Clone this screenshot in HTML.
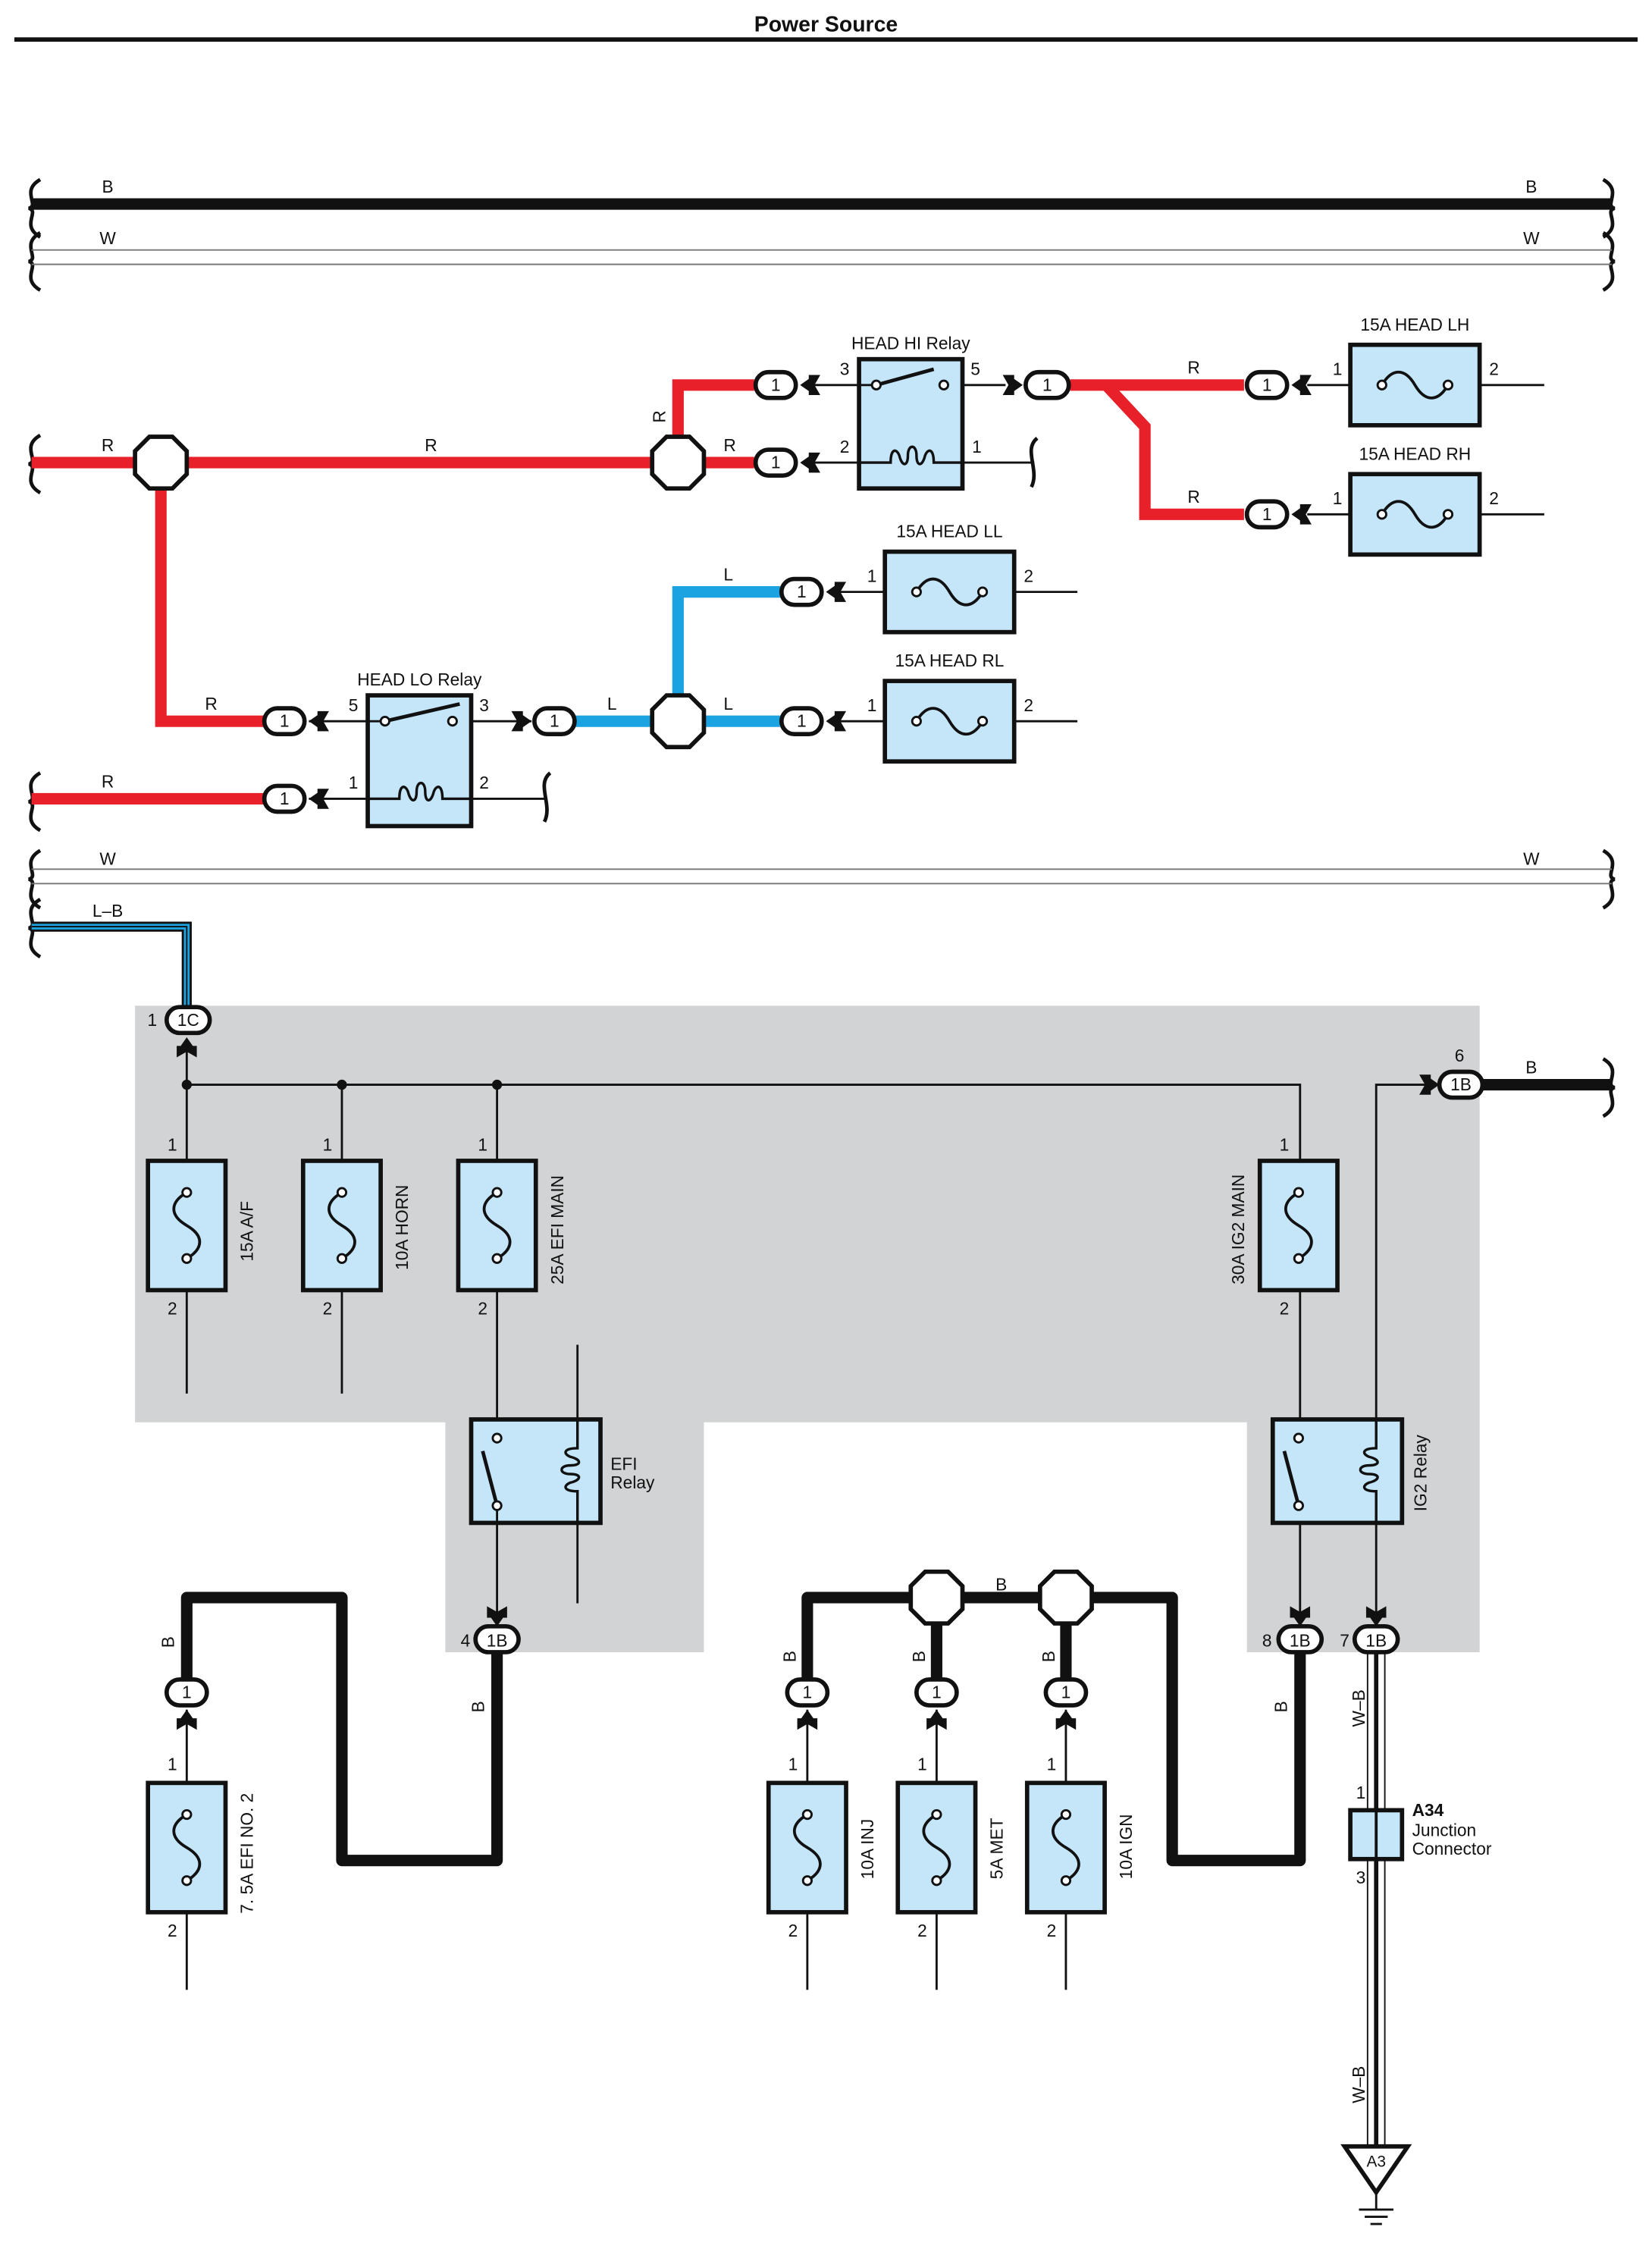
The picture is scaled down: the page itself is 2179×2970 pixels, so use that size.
<!DOCTYPE html>
<html><head><meta charset="utf-8"><style>
html,body{margin:0;padding:0;background:#fff}
svg{display:block}
text{font-family:"Liberation Sans",Arial,sans-serif;fill:#111}
</style></head><body>
<svg width="2179" height="2970" viewBox="0 0 1150 1567.5" preserveAspectRatio="none" xmlns="http://www.w3.org/2000/svg">
<defs>
<g id="fh"><rect x="0" y="0" width="90" height="56" fill="#c5e6f8" stroke="#111" stroke-width="3"/>
<path d="M22,28 c7,-12 16,-12 23,0 s16,12 23,0" fill="none" stroke="#111" stroke-width="2"/>
<circle cx="22" cy="28" r="3" fill="#fff" stroke="#111" stroke-width="1.5"/><circle cx="68" cy="28" r="3" fill="#fff" stroke="#111" stroke-width="1.5"/></g>
<g id="fv"><rect x="0" y="0" width="54" height="90" fill="#c5e6f8" stroke="#111" stroke-width="3"/>
<path d="M27,22 c-12,7 -12,16 0,23 s12,16 0,23" fill="none" stroke="#111" stroke-width="2"/>
<circle cx="27" cy="22" r="3" fill="#fff" stroke="#111" stroke-width="1.5"/><circle cx="27" cy="68" r="3" fill="#fff" stroke="#111" stroke-width="1.5"/></g>
<g id="oct"><polygon points="-8,-18 8,-18 18,-8 18,8 8,18 -8,18 -18,8 -18,-8" fill="#fff" stroke="#111" stroke-width="3"/></g>
<g id="arL"><path d="M0,0 L10,-7 L7,0 L10,7 Z M6,-7 L14,-7 L10,0 L14,7 L6,7 Z" fill="#111"/></g>
<g id="arR"><path d="M0,0 L-10,-7 L-7,0 L-10,7 Z M-6,-7 L-14,-7 L-10,0 L-14,7 L-6,7 Z" fill="#111"/></g>
<g id="arD"><path d="M0,0 L-7,-10 L0,-7 L7,-10 Z M-7,-6 L-7,-14 L0,-10 L7,-14 L7,-6 Z" fill="#111"/></g>
<g id="arU"><path d="M0,0 L-7,10 L0,7 L7,10 Z M-7,6 L-7,14 L0,10 L7,14 L7,6 Z" fill="#111"/></g>
</defs>

<text x="575" y="22" font-size="15" font-weight="bold" text-anchor="middle">Power Source</text>
<line x1="10" y1="27.5" x2="1140" y2="27.5" stroke="#111" stroke-width="3"/>

<!-- braces -->
<g fill="none" stroke="#111" stroke-width="2.5">
<path d="M28,125 c-14,8 0,18 -8,20 c8,2 -6,12 8,20"/><path d="M28,162 c-14,8 0,18 -8,20 c8,2 -6,12 8,20"/>
<path d="M1116,125 c14,8 0,18 8,20 c-8,2 6,12 -8,20"/><path d="M1116,162 c14,8 0,18 8,20 c-8,2 6,12 -8,20"/>
<path d="M28,303 c-14,8 0,18 -8,20 c8,2 -6,12 8,20"/>
<path d="M28,538 c-14,8 0,18 -8,20 c8,2 -6,12 8,20"/>
<path d="M28,592 c-14,8 0,18 -8,20 c8,2 -6,12 8,20"/>
<path d="M1116,592 c14,8 0,18 8,20 c-8,2 6,12 -8,20"/>
<path d="M28,626 c-14,8 0,18 -8,20 c8,2 -6,12 8,20"/>
<path d="M1116,737 c14,8 0,18 8,20 c-8,2 6,12 -8,20"/>
<path d="M722,305 c-10,8 2,22 -4,34"/>
<path d="M383,538 c-10,8 2,22 -4,34"/>
<path d="M384,936 c8,-8 16,4 32,-4"/><path d="M384,1116 c8,-8 16,4 32,-4"/>
</g>

<!-- top buses -->
<line x1="22" y1="142" x2="1122" y2="142" stroke="#111" stroke-width="8"/>
<text x="75" y="134" font-size="12" text-anchor="middle">B</text><text x="1066" y="134" font-size="12" text-anchor="middle">B</text>
<line x1="22" y1="174" x2="1122" y2="174" stroke="#777" stroke-width="1"/><line x1="22" y1="184" x2="1122" y2="184" stroke="#777" stroke-width="1"/>
<text x="75" y="170" font-size="12" text-anchor="middle">W</text><text x="1066" y="170" font-size="12" text-anchor="middle">W</text>
<line x1="22" y1="605" x2="1122" y2="605" stroke="#777" stroke-width="1"/><line x1="22" y1="615" x2="1122" y2="615" stroke="#777" stroke-width="1"/>
<text x="75" y="602" font-size="12" text-anchor="middle">W</text><text x="1066" y="602" font-size="12" text-anchor="middle">W</text>

<!-- gray region -->
<polygon points="94,700 1030,700 1030,1150 868,1150 868,990 490,990 490,1150 310,1150 310,990 94,990" fill="#d1d3d4"/>

<!-- red wires -->
<g fill="none" stroke="#e8202a" stroke-width="8" stroke-linejoin="miter">
<path d="M22,322 H525"/>
<path d="M112,322 V502 H185"/>
<path d="M472,322 V268 H525"/>
<path d="M745,268 H866"/>
<path d="M770,268 L797,297 V358 H866"/>
<path d="M22,556 H185"/>
</g>
<!-- blue wires -->
<g fill="none" stroke="#1aa3e0" stroke-width="8">
<path d="M400,502 H543"/>
<path d="M472,502 V412 H543"/>
</g>
<text x="75" y="314" font-size="12" text-anchor="middle">R</text>
<text x="300" y="314" font-size="12" text-anchor="middle">R</text>
<text x="508" y="314" font-size="12" text-anchor="middle">R</text>
<text x="463" y="290" font-size="12" text-anchor="middle" transform="rotate(-90 463 290)">R</text>
<text x="147" y="494" font-size="12" text-anchor="middle">R</text>
<text x="75" y="548" font-size="12" text-anchor="middle">R</text>
<text x="831" y="260" font-size="12" text-anchor="middle">R</text>
<text x="831" y="350" font-size="12" text-anchor="middle">R</text>
<text x="507" y="404" font-size="12" text-anchor="middle">L</text>
<text x="426" y="494" font-size="12" text-anchor="middle">L</text>
<text x="507" y="494" font-size="12" text-anchor="middle">L</text>

<use href="#oct" x="112" y="322"/><use href="#oct" x="472" y="322"/><use href="#oct" x="472" y="502"/>

<!-- thin wires top -->
<g stroke="#111" stroke-width="1.5" fill="none">
<path d="M565,268 H640"/><path d="M565,322 H720"/><path d="M662,268 H700"/>
<path d="M910,268 H1075"/><path d="M910,358 H1075"/>
<path d="M585,412 H750"/><path d="M585,502 H750"/>
<path d="M215,502 H370"/><path d="M215,556 H380"/>
</g>

<!-- HEAD HI Relay -->
<rect x="598" y="250" width="72" height="90" fill="#c5e6f8" stroke="#111" stroke-width="3"/>
<path d="M598,322 H620 c0,-10 4,-10 6,-5 c2,8 6,8 6,0 c0,-8 6,-8 6,0 c0,8 4,8 6,0 c2,-5 6,-5 6,5 H670" fill="none" stroke="#111" stroke-width="1.8"/>
<line x1="598" y1="268" x2="610" y2="268" stroke="#111" stroke-width="1.5"/>
<line x1="610" y1="268" x2="650" y2="257" stroke="#111" stroke-width="2.5"/>
<circle cx="610" cy="268" r="3" fill="#fff" stroke="#111" stroke-width="1.5"/><circle cx="657" cy="268" r="3" fill="#fff" stroke="#111" stroke-width="1.5"/>
<text x="634" y="243" font-size="12" text-anchor="middle">HEAD HI Relay</text>
<text x="588" y="261" font-size="12" text-anchor="middle">3</text><text x="679" y="261" font-size="12" text-anchor="middle">5</text>
<text x="588" y="315" font-size="12" text-anchor="middle">2</text><text x="680" y="315" font-size="12" text-anchor="middle">1</text>

<!-- HEAD LO Relay -->
<rect x="256" y="484" width="72" height="91" fill="#c5e6f8" stroke="#111" stroke-width="3"/>
<path d="M256,556 H278 c0,-10 4,-10 6,-5 c2,8 6,8 6,0 c0,-8 6,-8 6,0 c0,8 4,8 6,0 c2,-5 6,-5 6,5 H328" fill="none" stroke="#111" stroke-width="1.8"/>
<line x1="256" y1="502" x2="268" y2="502" stroke="#111" stroke-width="1.5"/>
<line x1="268" y1="502" x2="320" y2="490" stroke="#111" stroke-width="2.5"/>
<circle cx="268" cy="502" r="3" fill="#fff" stroke="#111" stroke-width="1.5"/><circle cx="315" cy="502" r="3" fill="#fff" stroke="#111" stroke-width="1.5"/>
<text x="292" y="477" font-size="12" text-anchor="middle">HEAD LO Relay</text>
<text x="246" y="495" font-size="12" text-anchor="middle">5</text><text x="337" y="495" font-size="12" text-anchor="middle">3</text>
<text x="246" y="549" font-size="12" text-anchor="middle">1</text><text x="337" y="549" font-size="12" text-anchor="middle">2</text>

<!-- horizontal fuses -->
<use href="#fh" x="940" y="240"/><use href="#fh" x="940" y="330"/><use href="#fh" x="616" y="384"/><use href="#fh" x="616" y="474"/>
<text x="985" y="230" font-size="12" text-anchor="middle">15A HEAD LH</text>
<text x="985" y="320" font-size="12" text-anchor="middle">15A HEAD RH</text>
<text x="661" y="374" font-size="12" text-anchor="middle">15A HEAD LL</text>
<text x="661" y="464" font-size="12" text-anchor="middle">15A HEAD RL</text>
<g font-size="12" text-anchor="middle">
<text x="931" y="261">1</text><text x="1040" y="261">2</text>
<text x="931" y="351">1</text><text x="1040" y="351">2</text>
<text x="607" y="405">1</text><text x="716" y="405">2</text>
<text x="607" y="495">1</text><text x="716" y="495">2</text>
</g>

<!-- arrows + pills top -->
<use href="#arL" x="557" y="268"/><use href="#arL" x="557" y="322"/><use href="#arR" x="712" y="268"/>
<use href="#arL" x="899" y="268"/><use href="#arL" x="899" y="358"/>
<use href="#arL" x="575" y="412"/><use href="#arL" x="575" y="502"/>
<use href="#arL" x="215" y="502"/><use href="#arL" x="215" y="556"/><use href="#arR" x="370" y="502"/>
<g fill="#fff" stroke="#111" stroke-width="3">
<rect x="526" y="259" width="28" height="18" rx="9"/><rect x="526" y="313" width="28" height="18" rx="9"/>
<rect x="714" y="259" width="30" height="18" rx="9"/>
<rect x="868" y="259" width="28" height="18" rx="9"/><rect x="868" y="349" width="28" height="18" rx="9"/>
<rect x="544" y="403" width="28" height="18" rx="9"/><rect x="544" y="493" width="28" height="18" rx="9"/>
<rect x="184" y="493" width="28" height="18" rx="9"/><rect x="184" y="547" width="28" height="18" rx="9"/>
<rect x="372" y="493" width="28" height="18" rx="9"/>
</g>
<g font-size="12" text-anchor="middle">
<text x="540" y="272">1</text><text x="540" y="326">1</text><text x="729" y="272">1</text>
<text x="882" y="272">1</text><text x="882" y="362">1</text><text x="558" y="416">1</text><text x="558" y="506">1</text>
<text x="198" y="506">1</text><text x="198" y="560">1</text><text x="386" y="506">1</text>
</g>

<!-- L-B wire -->
<path d="M22,645 H130 V700" fill="none" stroke="#111" stroke-width="7"/>
<path d="M22,645 H130 V700" fill="none" stroke="#1aa3e0" stroke-width="4"/>
<path d="M22,645 H130 V700" fill="none" stroke="#111" stroke-width="1"/>
<text x="75" y="638" font-size="12" text-anchor="middle">L–B</text>

<!-- junction block internals -->
<g stroke="#111" stroke-width="1.5" fill="none">
<path d="M130,730 V970"/><path d="M238,755 V970"/><path d="M346,755 V1130"/>
<path d="M130,755 H905 V1130"/>
<path d="M958,1130 V755 H1000"/>
<path d="M402,936 V1116"/>
</g>
<line x1="1030" y1="755" x2="1122" y2="755" stroke="#111" stroke-width="8"/>
<text x="1066" y="747" font-size="12" text-anchor="middle">B</text>
<circle cx="130" cy="755" r="3.5" fill="#111"/><circle cx="238" cy="755" r="3.5" fill="#111"/><circle cx="346" cy="755" r="3.5" fill="#111"/>
<use href="#arU" x="130" y="722"/>
<use href="#fv" x="103" y="808"/><use href="#fv" x="211" y="808"/><use href="#fv" x="319" y="808"/><use href="#fv" x="877" y="808"/>
<g font-size="12" text-anchor="middle">
<text x="120" y="801">1</text><text x="120" y="915">2</text>
<text x="228" y="801">1</text><text x="228" y="915">2</text>
<text x="336" y="801">1</text><text x="336" y="915">2</text>
<text x="894" y="801">1</text><text x="894" y="915">2</text>
<text x="106" y="714">1</text><text x="1016" y="739">6</text>
</g>
<g font-size="12">
<text transform="translate(176,878) rotate(-90)">15A A/F</text>
<text transform="translate(284,884) rotate(-90)">10A HORN</text>
<text transform="translate(392,894) rotate(-90)">25A EFI MAIN</text>
<text transform="translate(866,894) rotate(-90)">30A IG2 MAIN</text>
</g>

<!-- EFI relay -->
<rect x="328" y="988" width="90" height="72" fill="#c5e6f8" stroke="#111" stroke-width="3"/>
<line x1="346" y1="1048" x2="346" y2="1060" stroke="#111" stroke-width="1.5"/>
<line x1="346" y1="1048" x2="336" y2="1010" stroke="#111" stroke-width="2.5"/>
<circle cx="346" cy="1048" r="3" fill="#fff" stroke="#111" stroke-width="1.5"/><circle cx="346" cy="1001" r="3" fill="#fff" stroke="#111" stroke-width="1.5"/>
<path d="M402,988 V1008 c-10,0 -10,4 -5,6 c8,2 8,6 0,6 c-8,0 -8,6 0,6 c8,0 8,4 0,6 c-5,2 -5,6 5,6 V1060" fill="none" stroke="#111" stroke-width="1.8"/>
<text x="425" y="1023" font-size="12">EFI</text><text x="425" y="1036" font-size="12">Relay</text>

<!-- IG2 relay -->
<rect x="886" y="988" width="90" height="72" fill="#c5e6f8" stroke="#111" stroke-width="3"/>
<line x1="904" y1="1048" x2="894" y2="1010" stroke="#111" stroke-width="2.5"/>
<circle cx="904" cy="1048" r="3" fill="#fff" stroke="#111" stroke-width="1.5"/><circle cx="904" cy="1001" r="3" fill="#fff" stroke="#111" stroke-width="1.5"/>
<path d="M958,988 V1008 c-10,0 -10,4 -5,6 c8,2 8,6 0,6 c-8,0 -8,6 0,6 c8,0 8,4 0,6 c-5,2 -5,6 5,6 V1060" fill="none" stroke="#111" stroke-width="1.8"/>
<text transform="translate(993,1052) rotate(-90)" font-size="12">IG2 Relay</text>

<!-- 1B connectors inside bottom -->
<use href="#arD" x="346" y="1132"/><use href="#arD" x="905" y="1132"/><use href="#arD" x="958" y="1132"/>
<use href="#arR" x="1002" y="755"/>

<!-- thick B wires bottom -->
<g fill="none" stroke="#111" stroke-width="8" stroke-linejoin="round">
<path d="M346,1150 V1295 H238 V1112 H130 V1170"/>
<path d="M562,1170 V1112 H816 V1295 H905 V1150"/>
<path d="M652,1112 V1170"/><path d="M742,1112 V1170"/>
</g>
<use href="#oct" x="652" y="1112"/><use href="#oct" x="742" y="1112"/>
<text x="697" y="1107" font-size="12" text-anchor="middle">B</text>
<g font-size="12">
<text transform="translate(121,1147) rotate(-90)">B</text>
<text transform="translate(337,1192) rotate(-90)">B</text>
<text transform="translate(554,1157) rotate(-90)">B</text>
<text transform="translate(644,1157) rotate(-90)">B</text>
<text transform="translate(734,1157) rotate(-90)">B</text>
<text transform="translate(896,1192) rotate(-90)">B</text>
<text transform="translate(950,1202) rotate(-90)">W–B</text>
<text transform="translate(950,1464) rotate(-90)">W–B</text>
</g>

<!-- W-B wire -->
<g stroke="#111" fill="none">
<line x1="952" y1="1150" x2="952" y2="1495" stroke-width="1"/>
<line x1="964" y1="1150" x2="964" y2="1495" stroke-width="1"/>
<line x1="958" y1="1150" x2="958" y2="1495" stroke-width="3"/>
</g>
<rect x="940" y="1260" width="36" height="34" fill="#c5e6f8" stroke="#111" stroke-width="3"/>
<line x1="958" y1="1260" x2="958" y2="1294" stroke="#111" stroke-width="2"/>
<text x="944" y="1252" font-size="12">1</text><text x="944" y="1311" font-size="12">3</text>
<text x="983" y="1264" font-size="12" font-weight="bold">A34</text>
<text x="983" y="1278" font-size="12">Junction</text><text x="983" y="1291" font-size="12">Connector</text>
<polygon points="936,1494 980,1494 958,1526" fill="#fff" stroke="#111" stroke-width="3"/>
<text x="958" y="1508" font-size="11" text-anchor="middle">A3</text>
<g stroke="#111" stroke-width="1.5"><line x1="958" y1="1526" x2="958" y2="1538"/><line x1="946" y1="1538" x2="970" y2="1538"/><line x1="950" y1="1543" x2="966" y2="1543"/><line x1="954" y1="1548" x2="962" y2="1548"/></g>

<!-- bottom fuses -->
<use href="#arU" x="130" y="1190"/><use href="#arU" x="562" y="1190"/><use href="#arU" x="652" y="1190"/><use href="#arU" x="742" y="1190"/>
<g stroke="#111" stroke-width="1.5">
<line x1="130" y1="1190" x2="130" y2="1385"/><line x1="562" y1="1190" x2="562" y2="1385"/>
<line x1="652" y1="1190" x2="652" y2="1385"/><line x1="742" y1="1190" x2="742" y2="1385"/>
</g>
<use href="#fv" x="103" y="1241"/><use href="#fv" x="535" y="1241"/><use href="#fv" x="625" y="1241"/><use href="#fv" x="715" y="1241"/>
<g font-size="12" text-anchor="middle">
<text x="120" y="1232">1</text><text x="120" y="1348">2</text>
<text x="552" y="1232">1</text><text x="552" y="1348">2</text>
<text x="642" y="1232">1</text><text x="642" y="1348">2</text>
<text x="732" y="1232">1</text><text x="732" y="1348">2</text>
</g>
<g font-size="12">
<text transform="translate(176,1332) rotate(-90)">7. 5A EFI NO. 2</text>
<text transform="translate(608,1308) rotate(-90)">10A INJ</text>
<text transform="translate(698,1308) rotate(-90)">5A MET</text>
<text transform="translate(788,1308) rotate(-90)">10A IGN</text>
</g>

<!-- pills lower -->
<g fill="#fff" stroke="#111" stroke-width="3">
<rect x="116" y="701" width="30" height="18" rx="9"/>
<rect x="1002" y="746" width="30" height="18" rx="9"/>
<rect x="331" y="1132" width="30" height="18" rx="9"/>
<rect x="890" y="1132" width="30" height="18" rx="9"/>
<rect x="943" y="1132" width="30" height="18" rx="9"/>
<rect x="116" y="1169" width="28" height="18" rx="9"/>
<rect x="548" y="1169" width="28" height="18" rx="9"/>
<rect x="638" y="1169" width="28" height="18" rx="9"/>
<rect x="728" y="1169" width="28" height="18" rx="9"/>
</g>
<g font-size="12" text-anchor="middle">
<text x="131" y="714">1C</text><text x="1017" y="759">1B</text>
<text x="346" y="1146">1B</text><text x="905" y="1146">1B</text><text x="958" y="1146">1B</text>
<text x="130" y="1182">1</text><text x="562" y="1182">1</text><text x="652" y="1182">1</text><text x="742" y="1182">1</text>
<text x="324" y="1146">4</text><text x="882" y="1146">8</text><text x="936" y="1146">7</text>
</g>
</svg>
</body></html>
